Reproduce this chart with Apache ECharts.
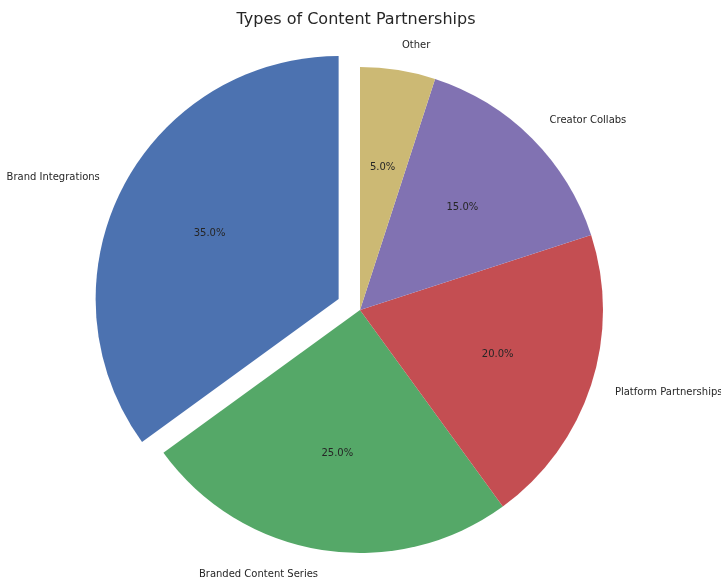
<!DOCTYPE html>
<html>
<head>
<meta charset="utf-8">
<script src="https://cdn.jsdelivr.net/npm/echarts@6/dist/echarts.min.js"></script>
<style>
  html, body { margin: 0; padding: 0; background: #ffffff; }
  #chart { width: 721px; height: 580px; }
</style>
</head>
<body>
<div id="chart"></div>
<script>
// Share of partnership types (percent)
const categories = ['Brand Integrations', 'Branded Content Series', 'Platform Partnerships', 'Creator Collabs', 'Other'];
const shares = [35, 25, 20, 15, 5];
const colors = ['#4C72B0', '#55A868', '#C44E52', '#8172B2', '#CCB974'];
const explodedName = 'Brand Integrations';

const R = 243;            // pie radius, px
const CENTER = [360, 310];
const OFFSET = 24;        // explode distance (about 0.1 * R)
const FONT = 'DejaVu Sans';

function slices(transparent) {
  return categories.map((name, i) => ({
    name: name,
    value: shares[i],
    selected: name === explodedName,
    itemStyle: { color: transparent ? 'rgba(0,0,0,0)' : colors[i] }
  }));
}

const chart = echarts.init(document.getElementById('chart'), null, { renderer: 'canvas' });

chart.setOption({
  animation: false,
  backgroundColor: '#ffffff',
  title: {
    text: 'Types of Content Partnerships',
    left: 351,
    top: 7,
    textAlign: 'center',
    textStyle: { fontFamily: FONT, fontSize: 16, fontWeight: 'normal', color: '#262626' }
  },
  series: [
    {
      // slices with category names placed just outside the rim
      type: 'pie',
      center: CENTER,
      radius: [0, R],
      startAngle: 90,
      clockwise: false,
      selectedMode: 'single',
      selectedOffset: OFFSET,
      avoidLabelOverlap: false,
      silent: true,
      data: slices(false),
      itemStyle: { borderWidth: 0 },
      select: { itemStyle: { borderWidth: 0 } },
      label: {
        show: true,
        position: 'outside',
        formatter: '{b}',
        fontFamily: FONT,
        fontSize: 10,
        color: '#262626',
        distanceToLabelLine: 0
      },
      labelLine: { show: false, length: 25, length2: 0 }
    },
    {
      // transparent overlay carrying the percentage labels near 0.6 R
      type: 'pie',
      center: CENTER,
      radius: [0, R * 1.2 - 8],
      startAngle: 90,
      clockwise: false,
      selectedMode: 'single',
      selectedOffset: OFFSET,
      avoidLabelOverlap: false,
      silent: true,
      data: slices(true),
      itemStyle: { borderWidth: 0 },
      label: {
        show: true,
        position: 'inside',
        formatter: p => p.percent.toFixed(1) + '%',
        fontFamily: FONT,
        fontSize: 10,
        color: '#262626'
      },
      labelLine: { show: false }
    }
  ]
});
</script>
</body>
</html>
